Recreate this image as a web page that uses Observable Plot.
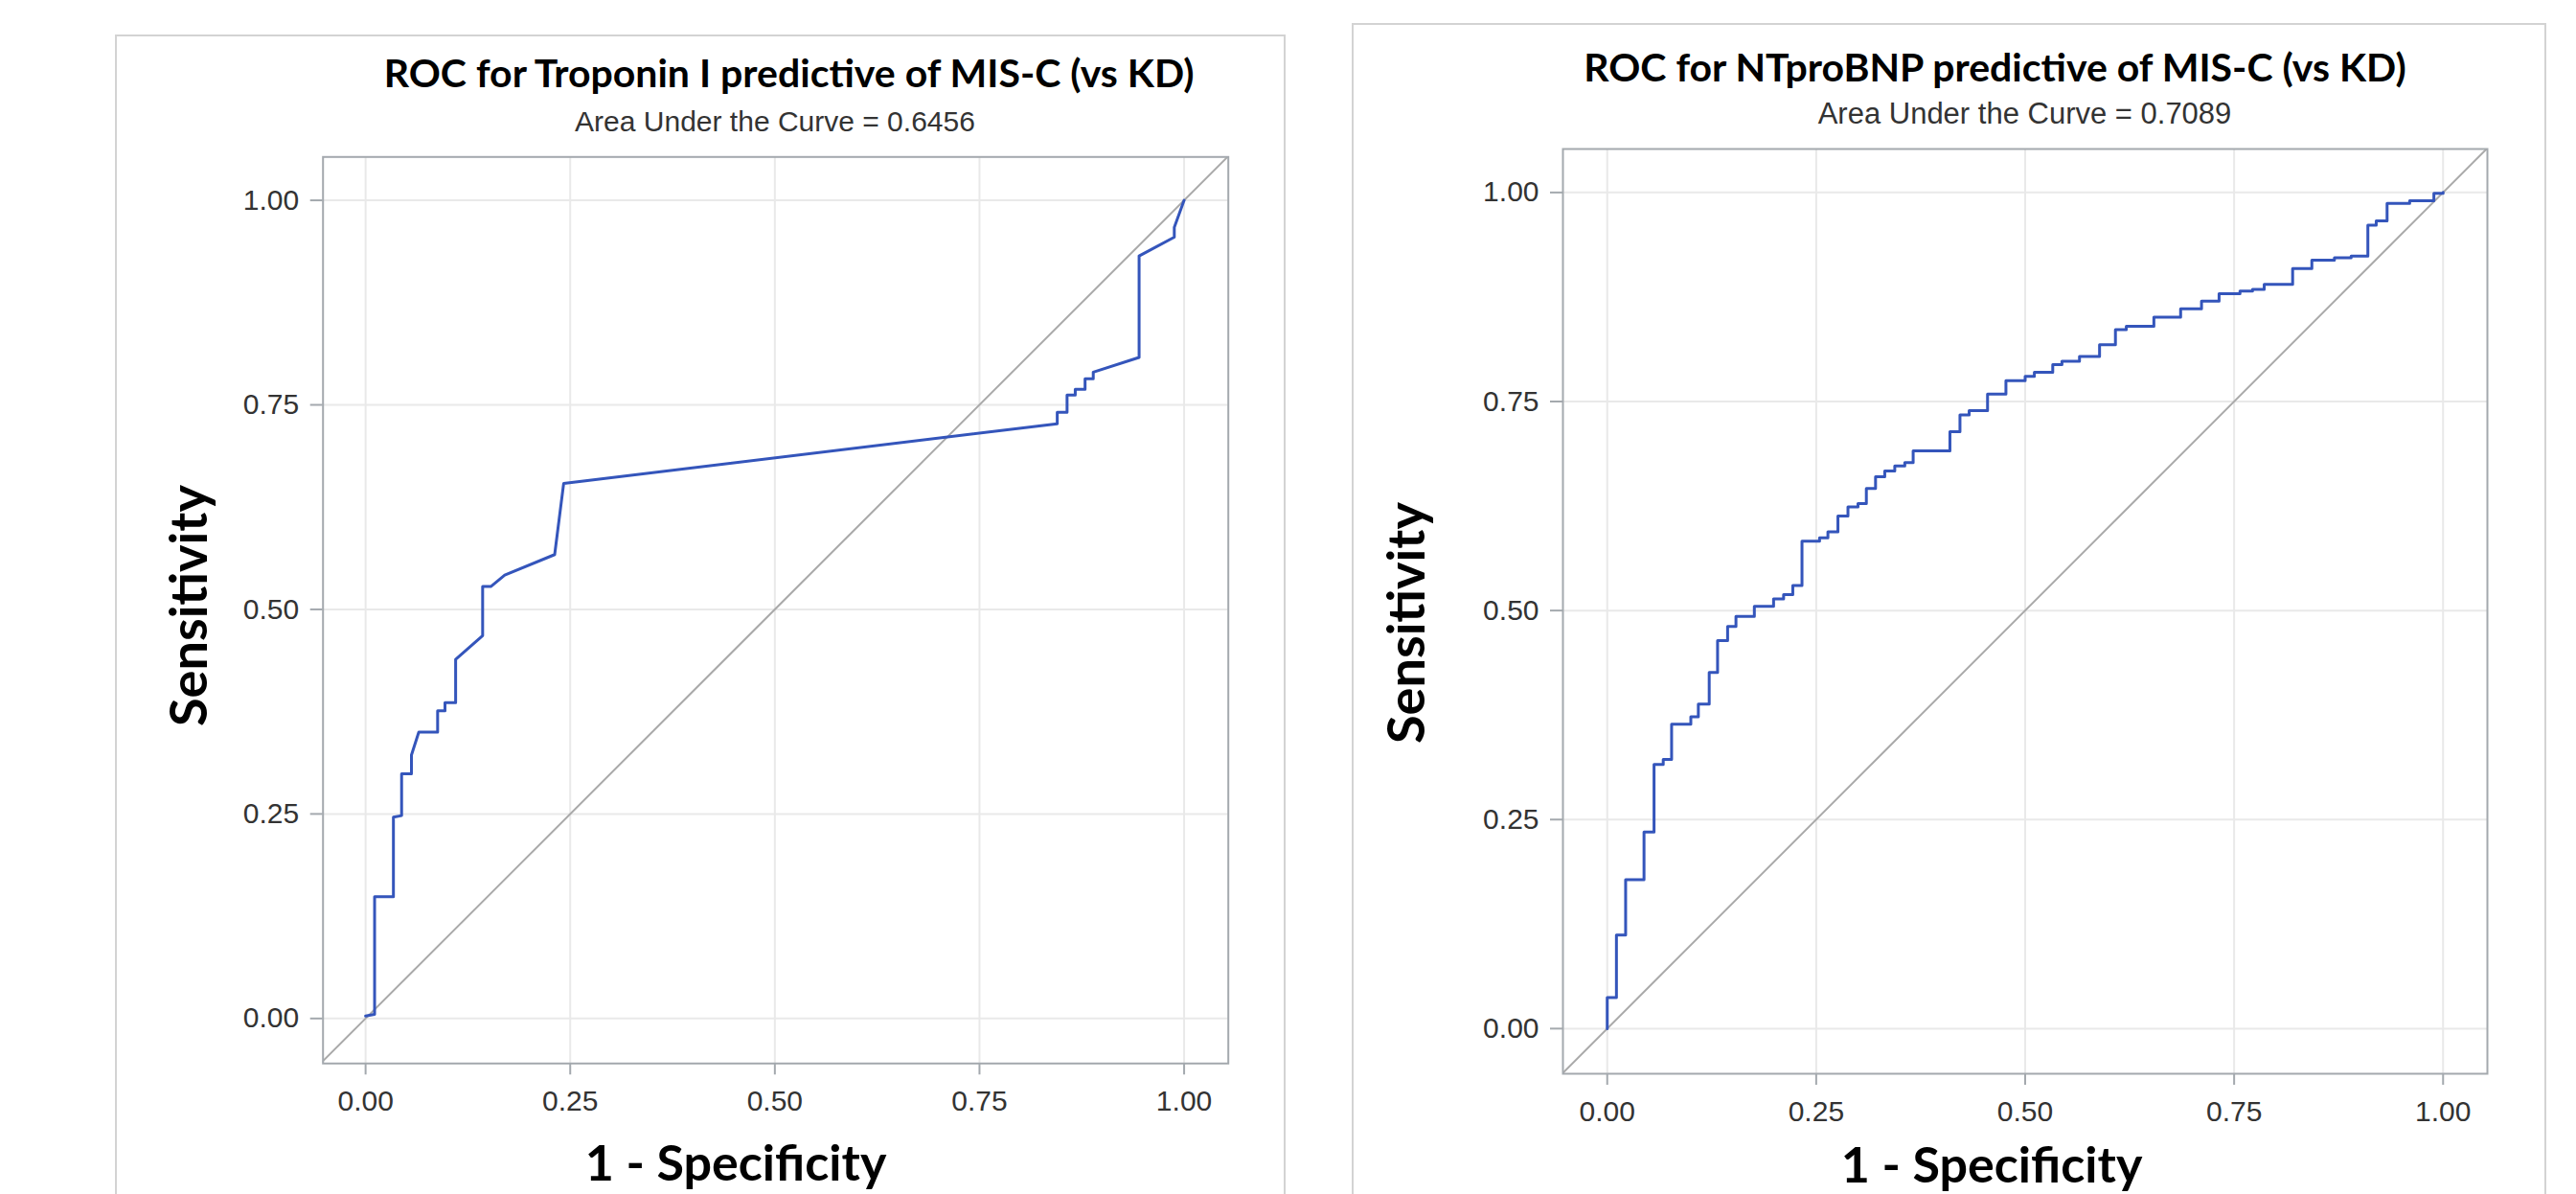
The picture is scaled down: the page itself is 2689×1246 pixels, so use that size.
<!DOCTYPE html>
<html>
<head>
<meta charset="utf-8">
<script src="https://cdn.jsdelivr.net/npm/d3@7"></script>
<script src="https://cdn.jsdelivr.net/npm/@observablehq/plot@0.6"></script>
<style>
  html, body { margin: 0; padding: 0; background: #fff; }
  #root { position: relative; width: 2689px; height: 1246px; overflow: hidden; background: #fff; }
  .box { position: absolute; border: 2px solid #d3d3d3; box-sizing: border-box; }
  .txt { position: absolute; white-space: nowrap; text-align: center; }
</style>
</head>
<body>
<div id="root"></div>
<script>
// ---------------- data ----------------
const tickValues = [0, 0.25, 0.5, 0.75, 1];
const chanceLine = [-0.06, 1.06]; // reference line y = x

const panelTitles = [
  "ROC for Troponin I predictive of MIS-C (vs KD)",
  "ROC for NTproBNP predictive of MIS-C (vs KD)"
];
const aucValues = ["0.6456", "0.7089"];
const xAxisLabel = "1 - Specificity";
const yAxisLabel = "Sensitivity";

// Troponin I ROC curve (1 - specificity, sensitivity), points joined linearly
const troponinFPR = [0, 0.011, 0.011, 0.034, 0.034, 0.044, 0.044, 0.056, 0.056, 0.065,
  0.088, 0.088, 0.097, 0.097, 0.110, 0.110, 0.143, 0.143, 0.153, 0.170,
  0.231, 0.242, 0.845, 0.845, 0.857, 0.857, 0.867, 0.867, 0.879, 0.879,
  0.889, 0.889, 0.945, 0.945, 0.988, 0.988, 1.000];
const troponinTPR = [0.003, 0.005, 0.149, 0.149, 0.246, 0.248, 0.299, 0.299, 0.322, 0.350,
  0.350, 0.376, 0.376, 0.386, 0.386, 0.439, 0.468, 0.528, 0.528, 0.542,
  0.567, 0.654, 0.727, 0.741, 0.741, 0.762, 0.762, 0.769, 0.769, 0.782,
  0.782, 0.790, 0.808, 0.932, 0.955, 0.967, 1.000];

// NTproBNP ROC curve: step points (1 - specificity at the rise, sensitivity after the rise)
const ntprobnpFPR = [0, 0, 0.011, 0.022, 0.044, 0.056, 0.067, 0.077, 0.100, 0.109,
  0.122, 0.132, 0.144, 0.154, 0.176, 0.199, 0.211, 0.222, 0.233, 0.254,
  0.264, 0.276, 0.288, 0.300, 0.310, 0.321, 0.332, 0.344, 0.356, 0.366,
  0.410, 0.422, 0.433, 0.455, 0.477, 0.500, 0.511, 0.533, 0.544, 0.565,
  0.589, 0.608, 0.621, 0.654, 0.686, 0.711, 0.732, 0.757, 0.772, 0.786,
  0.820, 0.843, 0.870, 0.890, 0.910, 0.920, 0.933, 0.960, 0.989, 1.000];
const ntprobnpTPR = [0, 0.037, 0.112, 0.178, 0.235, 0.316, 0.322, 0.364, 0.373, 0.388,
  0.426, 0.464, 0.481, 0.493, 0.505, 0.514, 0.519, 0.530, 0.583, 0.587,
  0.594, 0.613, 0.624, 0.628, 0.646, 0.660, 0.667, 0.673, 0.677, 0.691,
  0.714, 0.734, 0.739, 0.759, 0.775, 0.780, 0.785, 0.794, 0.798, 0.804,
  0.818, 0.836, 0.840, 0.851, 0.861, 0.870, 0.879, 0.882, 0.884, 0.890,
  0.909, 0.919, 0.922, 0.924, 0.961, 0.966, 0.987, 0.990, 0.999, 1.000];

// ---------------- drawing ----------------
const root = document.getElementById("root");
const COLORS = { curve: "#3455bb", diag: "#a9a9a9", grid: "#e9e9e9", frame: "#a4a9ae", tickText: "#333" };

function rocPlot(fpr, tpr, cfg) {
  const pts = fpr.map((x, i) => ({ x, y: tpr[i] }));
  const svg = Plot.plot({
    width: cfg.width,
    height: 1246,
    marginLeft: cfg.ml, marginRight: cfg.mr, marginTop: cfg.mt, marginBottom: cfg.mb,
    x: { domain: cfg.xDomain },
    y: { domain: cfg.yDomain },
    style: { fontFamily: "'Liberation Sans', Arial, sans-serif", fontSize: "30px", background: "transparent", overflow: "visible" },
    marks: [
      Plot.gridX(tickValues, { stroke: COLORS.grid, strokeOpacity: 1, strokeWidth: 2 }),
      Plot.gridY(tickValues, { stroke: COLORS.grid, strokeOpacity: 1, strokeWidth: 2 }),
      Plot.link([chanceLine], { x1: d => d[0], y1: d => d[0], x2: d => d[1], y2: d => d[1], stroke: COLORS.diag, strokeWidth: 2, clip: true }),
      Plot.line(pts, { x: "x", y: "y", curve: cfg.curve, stroke: COLORS.curve, strokeWidth: 3, clip: true }),
      Plot.frame({ stroke: COLORS.frame, strokeWidth: 2 }),
      Plot.axisX({ ticks: tickValues, tickFormat: ".2f", tickSize: 12, tickPadding: 16, stroke: COLORS.frame, strokeWidth: 2, fill: COLORS.tickText, label: null }),
      Plot.axisY({ ticks: tickValues, tickFormat: ".2f", tickSize: 13, tickPadding: 12, stroke: COLORS.frame, strokeWidth: 2, fill: COLORS.tickText, label: null })
    ]
  });
  svg.style.position = "absolute";
  svg.style.left = cfg.left + "px";
  svg.style.top = "0px";
  return svg;
}

function box(left, top, width, height) {
  const d = document.createElement("div");
  d.className = "box";
  Object.assign(d.style, { left: left + "px", top: top + "px", width: width + "px", height: height + "px" });
  root.appendChild(d);
}

// place text by its centre x and baseline y (metrics: ascent, content height in em)
const FONTS = {
  lato: { family: "Lato, 'Open Sans', sans-serif", asc: 0.987, content: 1.2 },
  arial: { family: "'Liberation Sans', Arial, sans-serif", asc: 0.905, content: 1.117 }
};
function text(str, { cx, baseline, size, font, weight = "normal", color = "#000", rotate = false }) {
  const f = FONTS[font];
  const off = (size - f.content * size) / 2 + f.asc * size; // baseline from top of line box
  const d = document.createElement("div");
  d.className = "txt";
  d.textContent = str;
  Object.assign(d.style, {
    fontFamily: f.family, fontSize: size + "px", fontWeight: weight, color,
    lineHeight: size + "px", height: size + "px", width: "2000px"
  });
  if (!rotate) {
    d.style.left = (cx - 1000) + "px";
    d.style.top = (baseline - off) + "px";
  } else {
    // cx = baseline x position, baseline param = centre y
    const centreX = cx - (off - size / 2);
    d.style.left = (centreX - 1000) + "px";
    d.style.top = (baseline - size / 2) + "px";
    d.style.transform = "rotate(-90deg)";
  }
  root.appendChild(d);
}

// panel frames
box(120, 36, 1222, 1300);
box(1411, 24, 1247, 1300);

// plots
root.appendChild(rocPlot(troponinFPR, troponinTPR, {
  left: 0, width: 1345, ml: 336.7, mr: 63.3, mt: 163.3, mb: 136.7,
  xDomain: [-0.052, 1.054], yDomain: [-0.055, 1.053], curve: "linear"
}));
root.appendChild(rocPlot(ntprobnpFPR, ntprobnpTPR, {
  left: 1345, width: 1344, ml: 286, mr: 93, mt: 155, mb: 126,
  xDomain: [-0.053, 1.053], yDomain: [-0.054, 1.052], curve: "step-after"
}));

// titles and labels
text(panelTitles[0], { cx: 823.7, baseline: 91.7, size: 41, font: "lato", weight: "bold" });
text(panelTitles[1], { cx: 2082.5, baseline: 85, size: 41, font: "lato", weight: "bold" });
text("Area Under the Curve = " + aucValues[0], { cx: 809, baseline: 137.3, size: 30, font: "arial", color: "#333" });
text("Area Under the Curve = " + aucValues[1], { cx: 2113.5, baseline: 129, size: 31, font: "arial", color: "#333" });
text(yAxisLabel, { cx: 217, baseline: 632, size: 54, font: "lato", weight: "bold", rotate: true });
text(yAxisLabel, { cx: 1488, baseline: 650, size: 54, font: "lato", weight: "bold", rotate: true });
text(xAxisLabel, { cx: 768, baseline: 1231.7, size: 52, font: "lato", weight: "bold" });
text(xAxisLabel, { cx: 2079, baseline: 1234, size: 52, font: "lato", weight: "bold" });
</script>
</body>
</html>
